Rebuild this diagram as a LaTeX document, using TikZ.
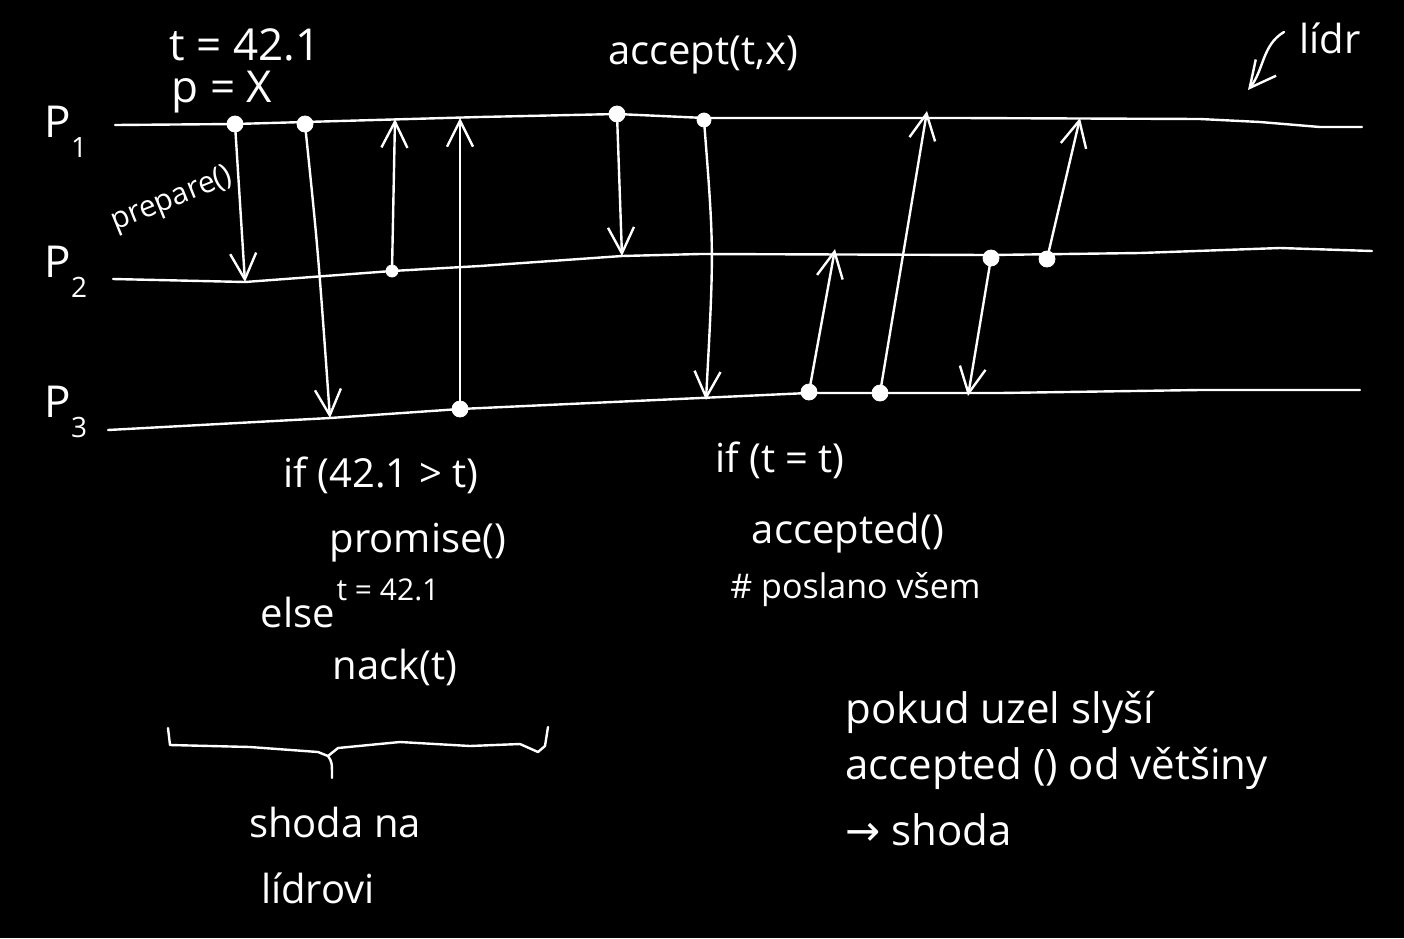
\documentclass[tikz,border=0pt]{standalone}
\usepackage{fontspec}
\setmainfont{Open Sans}
\newfontfamily\symfont{DejaVu Sans}
\usetikzlibrary{arrows.meta}
\begin{document}
\begin{tikzpicture}[x=0.5pt,y=-0.5pt,
  chalk/.style={white, line width=1.2pt, line cap=round, line join=round},
  msg/.style={chalk, -{Straight Barb[length=13pt,width=13pt,line width=1.2pt]}},
  dot/.style={circle, fill=white, draw=white, inner sep=0pt, minimum size=8pt},
  lbl/.style={text=white, inner sep=0pt, font=\fontsize{20}{24}\selectfont},
  big/.style={lbl, font=\fontsize{22}{26}\selectfont},
  small/.style={lbl, font=\fontsize{15}{18}\selectfont}]
% background
\fill[black] (0,0) rectangle (1404,938);
\useasboundingbox (0,0) rectangle (1404,938);

% process labels
\node[big] (lp1) at (66,132) {P\raisebox{-0.45em}{\fontsize{14}{16}\selectfont 1}};
\node[big] (lp2) at (66,272) {P\raisebox{-0.45em}{\fontsize{14}{16}\selectfont 2}};
\node[big] (lp3) at (66,412) {P\raisebox{-0.45em}{\fontsize{14}{16}\selectfont 3}};

% time lines
\coordinate (p1s) at (115,125); \coordinate (p1e) at (1362,127);
\coordinate (p2s) at (113,279); \coordinate (p2e) at (1372,251);
\coordinate (p3s) at (108,430); \coordinate (p3e) at (1360,390);
\draw[chalk] (p1s) -- (235,124) -- (480,117) -- (617,114) -- (705,118) -- (960,118) -- (1200,119) -- (1260,122) -- (1320,127) -- (p1e);
\draw[chalk] (p2s) -- (245,282) -- (392,271) -- (480,266) -- (622,256) -- (700,254) -- (990,255) -- (1140,253) -- (1280,248) -- (p2e);
\draw[chalk] (p3s) -- (330,418) -- (460,409) -- (700,398) -- (808,393) -- (1000,393) -- (1200,390) -- (p3e);

% dots (senders)
\node[dot] (d1) at (235,124) {};
\node[dot] (d2) at (305,124) {};
\node[dot, minimum size=6pt] (d3) at (392,271) {};
\node[dot] (d4) at (460,409) {};
\node[dot] (d5) at (617,114) {};
\node[dot, minimum size=7pt] (d6) at (704,120) {};
\node[dot] (d7) at (809,392) {};
\node[dot] (d8) at (880,393) {};
\node[dot] (d9) at (991,258) {};
\node[dot] (d10) at (1047,259) {};

% arrow tips (receivers)
\coordinate (r1) at (245,282);
\coordinate (r2) at (330,418);
\coordinate (r3) at (395,119);
\coordinate (r4) at (460,118);
\coordinate (r5) at (622,256);
\coordinate (r6) at (706,400);
\coordinate (r7) at (835,249);
\coordinate (r8) at (927,111);
\coordinate (r9) at (968,396);
\coordinate (r10) at (1080,118);

% messages
\draw[msg] (d1) -- (r1);
\draw[msg] (d2) .. controls (318,250) .. (r2);
\draw[msg] (d3) -- (r3);
\draw[msg] (d4) -- (r4);
\draw[msg] (d5) -- (r5);
\draw[msg] (d6) .. controls (714,250) .. (r6);
\draw[msg] (d7) -- (r7);
\draw[msg] (d8) -- (r8);
\draw[msg] (d9) -- (r9);
\draw[msg] (d10) -- (r10);

% labels at top
\node[big] (t1) at (245,45) {t = 42.1};
\node[big] (t2) at (222,92) {p = X};
\node[lbl] (acc) at (703,55) {accept(t,x)};
\node[small, rotate=22] (prep) at (172,200) {prepare()};

% leader annotation
\node[lbl] (lidr) at (1330,38) {lídr};
\coordinate (la) at (1284,32);
\coordinate (lb) at (1248,90);
\draw[msg] (la) .. controls (1262,45) and (1264,70) .. (lb);

% P3 reactions
\node[lbl] (if1) at (381,475) {if (42.1 > t)};
\node[lbl] (prom) at (418,543) {promise()};
\node[small] (tset) at (388,590) {t = 42.1};
\node[lbl] (els) at (298,612) {else};
\node[lbl] (nack) at (395,667) {nack(t)};

\node[lbl] (if2) at (780,460) {if (t = t)};
\node[lbl] (accd) at (848,533) {accepted()};
\node[small, anchor=west, font=\fontsize{17}{20}\selectfont] (posl) at (730,590) {\# poslano všem};

% brace
\coordinate (bl) at (168,728);
\coordinate (br) at (548,727);
\coordinate (bt) at (332,778);
\draw[chalk] (bl) -- (170,745) -- (250,747) -- (318,752) -- (328,756) .. controls (332,762) .. (bt);
\draw[chalk] (328,756) -- (338,748) -- (400,742) -- (470,746) -- (520,744) -- (538,752) -- (545,746) -- (br);
\node[lbl] (sh1) at (335,822) {shoda na};
\node[lbl] (sh2) at (318,888) {lídrovi};

% conclusion
\node[lbl, anchor=west, font=\fontsize{21}{25}\selectfont] (c1) at (845,712) {pokud uzel slyší};
\node[lbl, anchor=west, font=\fontsize{21}{25}\selectfont] (c2) at (845,768) {accepted () od většiny};
\node[lbl, anchor=west, font=\fontsize{21}{25}\selectfont] (c3) at (845,830) {{\symfont →} shoda};
\end{tikzpicture}
\end{document}
